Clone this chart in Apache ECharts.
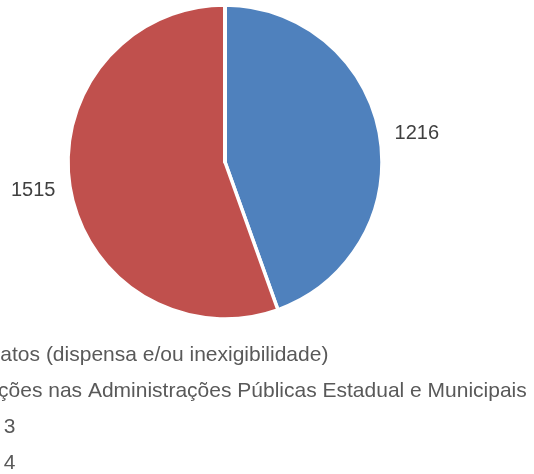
<!DOCTYPE html>
<html>
<head>
<meta charset="utf-8">
<script src="https://cdn.jsdelivr.net/npm/echarts@6/dist/echarts.min.js"></script>
<style>
    html, body { margin: 0; padding: 0; background: #fff; }
    #chart { width: 534px; height: 474px; }
</style>
</head>
<body>
<div id="chart"></div>
<script>
const categories = [
    'Contratos (dispensa e/ou inexigibilidade)',
    'Licitações nas Administrações Públicas Estadual e Municipais',
    'Série 3',
    'Série 4'
];
const values = [1216, 1515, 0, 0];
const colors = ['#4F81BD', '#C0504D', '#9BBB59', '#8064A2'];

const chart = echarts.init(document.getElementById('chart'));

const pieData = categories.map((name, i) => ({
    name: name,
    value: values[i],
    // empty slices carry no label, as in the original
    label: { show: values[i] > 0 }
}));

chart.setOption({
    animation: false,
    color: colors,
    legend: {
        orient: 'vertical',
        left: -76,
        top: 340,
        height: 200,
        icon: 'rect',
        itemWidth: 14,
        itemHeight: 14,
        itemGap: 15,
        data: categories,
        textStyle: {
            fontFamily: 'Liberation Sans',
            fontSize: 21,
            color: '#595959'
        }
    },
    series: [{
        type: 'pie',
        center: [225, 162],
        radius: 157,
        startAngle: 90,
        clockwise: true,
        avoidLabelOverlap: false,
        data: pieData,
        itemStyle: {
            borderColor: '#fff',
            borderWidth: 3.5
        },
        label: {
            show: true,
            position: 'outside',
            formatter: '{c}',
            fontFamily: 'Liberation Sans',
            fontSize: 20,
            color: '#404040'
        },
        labelLine: {
            show: false,
            length: 10,
            length2: 0
        },
        emphasis: { disabled: true }
    }]
});
</script>
</body>
</html>
